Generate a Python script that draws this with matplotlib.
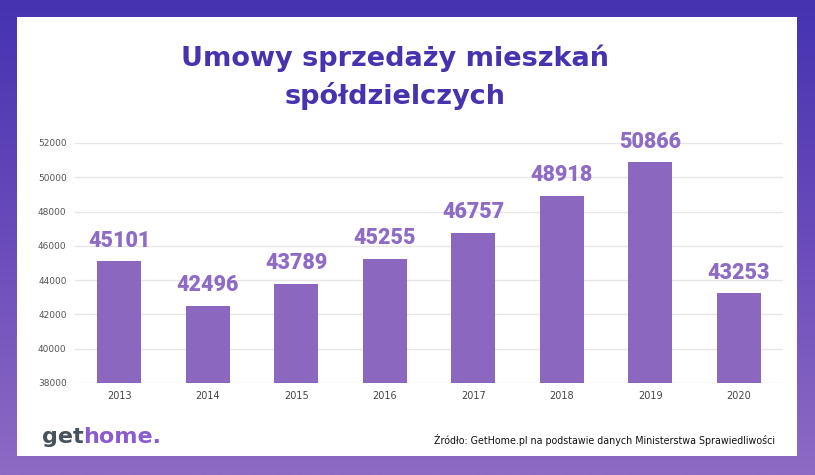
import numpy as np
import matplotlib.pyplot as plt
from matplotlib.patches import Rectangle
from matplotlib.colors import LinearSegmentedColormap

years = ['2013', '2014', '2015', '2016', '2017', '2018', '2019', '2020']
contracts = [45101, 42496, 43789, 45255, 46757, 48918, 50866, 43253]
yticks = [38000, 40000, 42000, 44000, 46000, 48000, 50000, 52000]

title = 'Umowy sprzedaży mieszkań\nspółdzielczych'
source = 'Źródło: GetHome.pl na podstawie danych Ministerstwa Sprawiedliwości'

bar_color = '#8c67c0'
title_color = '#4733b0'

fig = plt.figure(figsize=(8.15, 4.75), dpi=100)

# gradient frame behind everything
bg = fig.add_axes([0, 0, 1, 1], zorder=-10)
cmap = LinearSegmentedColormap.from_list('frame', ['#4533b0', '#6a4bbb', '#8e6bc4'])
bg.imshow(np.linspace(0, 1, 256).reshape(-1, 1), aspect='auto', cmap=cmap,
          extent=[0, 1, 0, 1], origin='upper')
bg.add_patch(Rectangle((17 / 815, 1 - 456 / 475), (797 - 17) / 815, (456 - 17) / 475,
                       facecolor='white', edgecolor='none'))
bg.set_xlim(0, 1)
bg.set_ylim(0, 1)
bg.axis('off')

ax = fig.add_axes([75 / 815, 1 - 383 / 475, (783 - 75) / 815, (383 - 143) / 475])
x = np.arange(len(years))
bars = ax.bar(x, contracts, width=0.5, color=bar_color, zorder=3)
for xi, v in zip(x, contracts):
    ax.text(xi, v + 550, str(v), ha='center', va='bottom', fontsize=15.5,
            fontweight='heavy', color='#8e6bc4', family=['Roboto', 'DejaVu Sans'])

ax.set_xlim(-0.5, len(years) - 0.5)
ax.set_ylim(38000, 52000)
ax.set_yticks(yticks)
ax.set_yticklabels([str(t) for t in yticks], fontsize=6.5, color='#555555')
ax.set_xticks(x)
ax.set_xticklabels(years, fontsize=7, color='#444444')
ax.tick_params(length=0, pad=6)
ax.grid(axis='y', color='#e6e6e6', linewidth=1, zorder=0)
for s in ax.spines.values():
    s.set_visible(False)
ax.set_facecolor('none')

fig.text(395 / 815, 1 - 77 / 475, title, ha='center', va='center', fontsize=19.5,
         fontweight='bold', color=title_color, linespacing=1.45)

# logo
fig.text(42 / 815, 1 - 437 / 475, 'get', ha='left', va='center', fontsize=16,
         fontweight='heavy', color='#46525c')
fig.text(83 / 815, 1 - 437 / 475, 'home.', ha='left', va='center', fontsize=16,
         fontweight='heavy', color='#8a5cd0')

fig.text(775 / 815, 1 - 440 / 475, source, ha='right', va='center', fontsize=7.7,
         color='#111111', family='DejaVu Sans', stretch='condensed')

fig.savefig('out.png', dpi=100)
